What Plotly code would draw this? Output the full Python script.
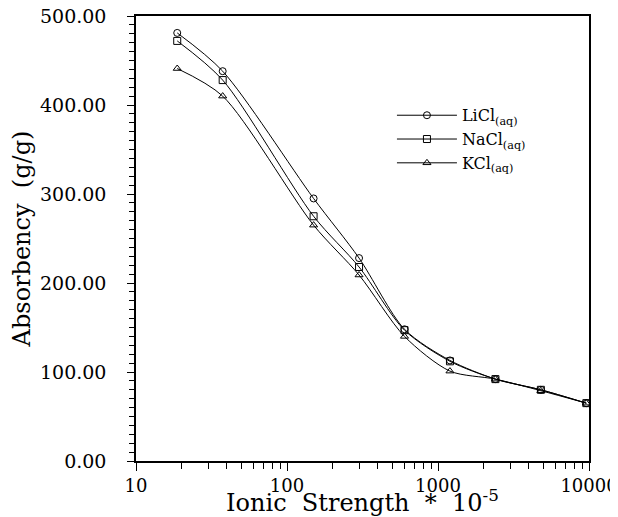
import plotly.graph_objects as go

ionic_strength = [18.75, 37.5, 150, 300, 600, 1200, 2400, 4800, 9600]
licl = [481, 438, 295, 228, 148, 113, 92, 80, 65]
nacl = [472, 428, 275, 218, 147, 112, 92, 80, 65]
kcl = [441, 410, 265, 209, 140, 101, 92, 79, 65]

x_major_ticks = [10, 100, 1000, 10000]
x_minor_ticks = [m * d for d in (10, 100, 1000) for m in range(2, 10)]
y_major_ticks = [0, 100, 200, 300, 400, 500]

series = [
    ("LiCl<sub>(aq)</sub>", licl, "circle-open"),
    ("NaCl<sub>(aq)</sub>", nacl, "square-open"),
    ("KCl<sub>(aq)</sub>", kcl, "triangle-up-open"),
]

FONT = "DejaVu Serif"

fig = go.Figure()
for name, vals, sym in series:
    fig.add_trace(go.Scatter(
        x=ionic_strength, y=vals, name=name, mode="lines+markers",
        line=dict(color="black", width=1, shape="spline", smoothing=0.8),
        marker=dict(symbol=sym, size=7, color="black", line=dict(width=1)),
    ))

# page body adds an 8px offset, so the figure is sized to the visible area
fig.update_layout(
    width=610, height=509,
    margin=dict(l=128, r=29, t=8, b=56),
    paper_bgcolor="white", plot_bgcolor="white",
    font=dict(family=FONT, size=18, color="black"),
    showlegend=True,
    legend=dict(x=0.565, y=0.815, xanchor="left", yanchor="top",
                bgcolor="rgba(0,0,0,0)", itemwidth=60, tracegroupgap=0,
                font=dict(family=FONT, size=16, color="black")),
)

fig.update_xaxes(
    type="log", range=[1, 4], automargin=False, ticklabeloverflow="allow",
    tickvals=x_major_ticks, ticktext=[str(v) for v in x_major_ticks],
    ticks="outside", ticklen=8, tickcolor="black", tickwidth=1,
    minor=dict(ticks="outside", ticklen=6, tickcolor="black", showgrid=False,
               tickvals=x_minor_ticks),
    showline=True, linecolor="black", linewidth=1.5, mirror=True,
    showgrid=False, zeroline=False,
    tickfont=dict(family=FONT, size=18),
    title=dict(text="Ionic\u00a0 Strength\u00a0 *\u00a0 10<sup>-5</sup>", standoff=5,
               font=dict(family=FONT, size=24)),
)
fig.update_yaxes(
    range=[0, 500], tickvals=y_major_ticks, tickformat=".2f", automargin=False,
    ticklabeloverflow="allow",
    ticks="outside", ticklen=7, tickcolor="black", tickwidth=1,
    ticklabelstandoff=17,
    minor=dict(ticks="outside", ticklen=5, dtick=10, tickcolor="black", showgrid=False),
    showline=True, linecolor="black", linewidth=1.5, mirror=True,
    showgrid=False, zeroline=False,
    tickfont=dict(family=FONT, size=19),
    title=dict(text="Absorbency\u00a0 (g/g)", standoff=6,
               font=dict(family=FONT, size=24)),
)

fig.write_html("out.html")
